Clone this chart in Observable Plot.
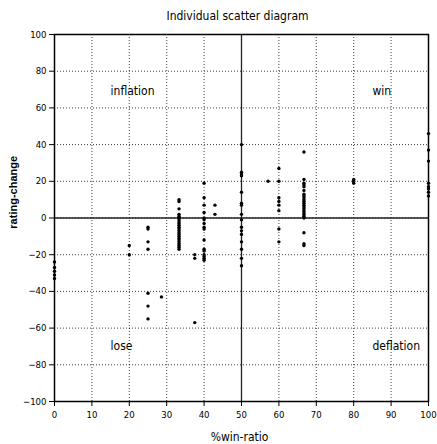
<!DOCTYPE html>
<html>
<head>
<meta charset="utf-8">
<script src="https://cdn.jsdelivr.net/npm/d3@7"></script>
<script src="https://cdn.jsdelivr.net/npm/@observablehq/plot@0.6"></script>
<style>
  body { margin: 0; background: #fff; }
</style>
</head>
<body>
<div id="chart"></div>
<script>
// win ratio (%) for each column of players, and their rating changes
const winRatios = [0, 20, 25, 28.6, 33.3, 37.5, 40, 42.9, 50, 57.1, 60, 66.7, 80, 100];
const ratingChanges = [
  [-24, -27, -29, -31, -33],
  [-15, -20],
  [-5, -6, -13, -17, -41, -48, -55],
  [-43],
  [10, 9, 5, 2, 1, 0, -1, -2, -3, -4, -5, -6, -7, -8, -9, -10, -11, -12, -13, -14, -15, -16, -17],
  [-20, -22, -57],
  [19, 11, 7, 3, 0, -1, -3, -5, -6, -12, -17, -18, -20, -21, -22, -23],
  [7, 2],
  [40, 25, 24, 23, 14, 8, 7, 2, -1, -5, -7, -9, -13, -17, -22, -26],
  [20],
  [27, 20, 11, 9, 7, 4, -6, -13],
  [36, 21, 19, 18, 17, 15, 13, 12, 11, 10, 9, 8, 7, 6, 5, 4, 3, 2, 1, 0, -8, -14, -15],
  [21, 20, 19],
  [46, 37, 31, 19, 17, 16, 14, 12]
];
const xTicks = [0, 10, 20, 30, 40, 50, 60, 70, 80, 90, 100];
const yTicks = [-100, -80, -60, -40, -20, 0, 20, 40, 60, 80, 100];
const quadrantLabels = ["inflation", "win", "lose", "deflation"];
const quadrantX = [15, 85, 15, 85];
const quadrantY = [69, 69, -70, -70];
const titleText = "Individual scatter diagram";
const xLabel = "%win-ratio";
const yLabel = "rating-change";
const yLabelAt = [{x: 0, y: 14}];

const points = winRatios.flatMap((w, i) => ratingChanges[i].map(r => ({w, r})));
const quads = quadrantLabels.map((t, i) => ({t, x: quadrantX[i], y: quadrantY[i]}));

const narrow = "'Liberation Sans Narrow', 'DejaVu Sans Condensed', 'Arial Narrow', sans-serif";

const chart = Plot.plot({
  width: 437,
  height: 444,
  marginLeft: 54,
  marginRight: 9,
  marginTop: 34,
  marginBottom: 43,
  style: {fontFamily: narrow, fontSize: "10px", background: "#fff", color: "#000"},
  x: {domain: [0, 100], ticks: xTicks, label: null},
  y: {domain: [-100, 100], ticks: yTicks, label: null},
  marks: [
    Plot.gridX(xTicks, {stroke: "#000", strokeOpacity: 0.75, strokeDasharray: "1,2"}),
    Plot.gridY(yTicks, {stroke: "#000", strokeOpacity: 0.75, strokeDasharray: "1,2"}),
    Plot.ruleX([50], {stroke: "#222", strokeWidth: 1.3}),
    Plot.ruleY([0], {stroke: "#222", strokeWidth: 1.3}),
    Plot.frame({stroke: "#000", strokeWidth: 1.5}),
    Plot.axisX(xTicks, {tickSize: 5, tickPadding: 5, fontSize: 9.5, label: null}),
    Plot.axisY(yTicks, {tickSize: 5, tickPadding: 3, fontSize: 9.5, label: null}),
    Plot.dot(points, {x: "w", y: "r", r: 1.7, fill: "#000", stroke: null}),
    Plot.text(quads, {x: "x", y: "y", text: "t", textAnchor: "start", lineAnchor: "middle", fontSize: 12, fill: "#000"}),
    Plot.text([titleText], {frameAnchor: "top", lineAnchor: "middle", textAnchor: "middle", dy: -18, dx: -4, fontSize: 12, fill: "#000"}),
    Plot.text([xLabel], {frameAnchor: "bottom", lineAnchor: "middle", textAnchor: "middle", dy: 35.5, dx: -2, fontSize: 12, fill: "#000"}),
    Plot.text(yLabelAt, {x: "x", y: "y", text: () => yLabel, rotate: -90, dx: -41, textAnchor: "middle", lineAnchor: "middle",
      fontSize: 11, fontWeight: "bold", fontFamily: "'Liberation Sans', Arial, sans-serif", fill: "#000"})
  ]
});
document.getElementById("chart").appendChild(chart);
</script>
</body>
</html>
